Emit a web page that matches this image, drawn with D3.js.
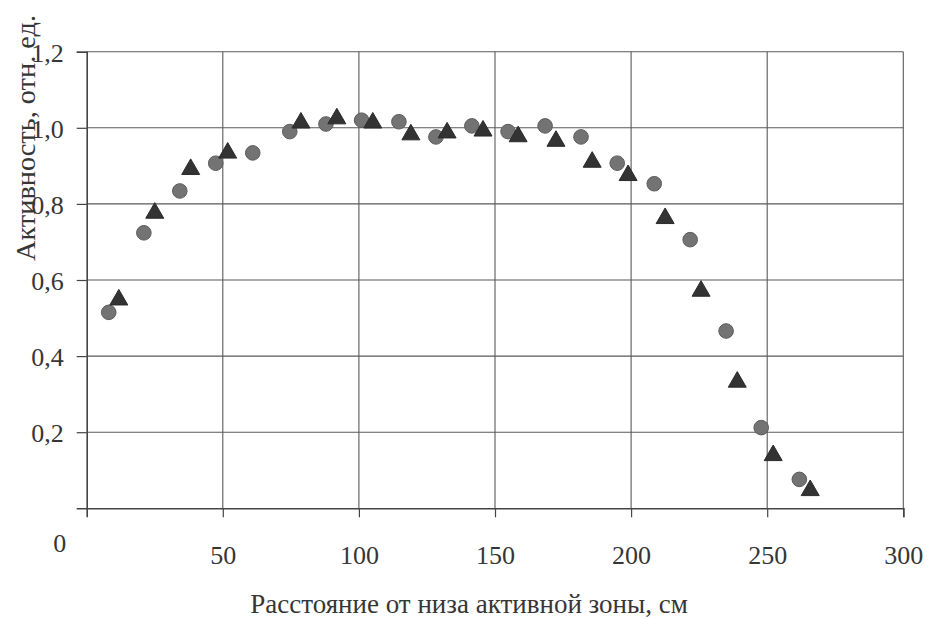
<!DOCTYPE html>
<html>
<head>
<meta charset="utf-8">
<script src="https://cdn.jsdelivr.net/npm/d3@7"></script>
<style>
  html, body { margin: 0; padding: 0; background: #fff; }
  svg { display: block; }
</style>
</head>
<body>
<svg id="chart" width="935" height="621" font-family="Liberation Serif, Times New Roman, serif"></svg>
<script>
// Distance from the bottom of the core, cm, and relative activity
const circleX = [8.1, 21, 34.2, 47.4, 61, 74.6, 87.9, 101, 114.7, 128.3, 141.5, 154.8, 168.4, 181.6, 194.9, 208.5, 221.7, 234.9, 247.8, 261.8];
const circleY = [0.515, 0.724, 0.834, 0.907, 0.934, 0.990, 1.010, 1.020, 1.016, 0.976, 1.005, 0.990, 1.005, 0.976, 0.907, 0.853, 0.706, 0.466, 0.212, 0.076];
const triX = [11.8, 25, 38.2, 51.8, 78.7, 91.9, 105.1, 119.1, 132.4, 145.6, 158.5, 172.4, 185.7, 198.9, 212.5, 225.7, 239, 252.2, 265.8];
const triY = [0.548, 0.776, 0.891, 0.934, 1.013, 1.024, 1.013, 0.982, 0.987, 0.992, 0.977, 0.965, 0.910, 0.875, 0.762, 0.571, 0.332, 0.139, 0.047];
const xTicks = [50, 100, 150, 200, 250, 300];
const yTicks = [0.2, 0.4, 0.6, 0.8, 1.0, 1.2];
const xTitle = "Расстояние от низа активной зоны, см";
const yTitle = "Активность, отн. ед.";

const FONT = "Liberation Serif, Times New Roman, serif";
const INK = "#363636";

const svg = d3.select("#chart");
const x = d3.scaleLinear().domain([0, 300]).range([86.7, 903.3]);
const y = d3.scaleLinear().domain([0, 1.2]).range([508.3, 51.7]);

// grid
const grid = svg.append("g").attr("stroke", "#5a5a5a").attr("stroke-width", 1.1);
grid.selectAll("line.h").data(yTicks).join("line")
  .attr("x1", x(0)).attr("x2", x(300))
  .attr("y1", d => y(d)).attr("y2", d => y(d));
grid.selectAll("line.v").data(xTicks).join("line")
  .attr("y1", y(0)).attr("y2", y(1.2))
  .attr("x1", d => x(d)).attr("x2", d => x(d));

// axes
const fmt = d => d3.format(".1f")(d).replace(".", ",");
const yAxis = svg.append("g").attr("transform", `translate(${x(0)},0)`)
  .call(d3.axisLeft(y).tickValues(yTicks).tickFormat(fmt).tickSize(10).tickPadding(13));
const xAxis = svg.append("g").attr("transform", `translate(0,${y(0)})`)
  .call(d3.axisBottom(x).tickValues(xTicks).tickFormat(d3.format("d")).tickSize(9).tickPadding(28));
[yAxis, xAxis].forEach(a => {
  a.attr("font-family", FONT).attr("font-size", 26);
  a.select(".domain").attr("stroke", "#444").attr("stroke-width", 1.6);
  a.selectAll(".tick line").attr("stroke", "#444").attr("stroke-width", 1.2);
  a.selectAll(".tick text").attr("fill", INK);
});
yAxis.selectAll(".tick text").attr("dy", "0.36em");

// origin label
svg.append("text").attr("x", x(0) - 27).attr("y", y(0) + 44)
  .attr("text-anchor", "middle").attr("font-size", 26).attr("fill", INK).text("0");

// titles
svg.append("text").attr("x", 469).attr("y", 613).attr("text-anchor", "middle")
  .attr("font-size", 27).attr("fill", INK).text(xTitle);
svg.append("text").attr("transform", `translate(35,138) rotate(-90)`)
  .attr("text-anchor", "middle").attr("font-size", 28).attr("fill", INK)
  .attr("textLength", 246).attr("lengthAdjust", "spacingAndGlyphs").text(yTitle);

// series
const circles = d3.zip(circleX, circleY);
const tris = d3.zip(triX, triY);
svg.append("g").selectAll("circle").data(circles).join("circle")
  .attr("cx", d => x(d[0])).attr("cy", d => y(d[1])).attr("r", 7.3)
  .attr("fill", "#737373").attr("stroke", "#5c5c5c").attr("stroke-width", 1);
const tri = d3.symbol().type(d3.symbolTriangle).size(140);
svg.append("g").selectAll("path").data(tris).join("path")
  .attr("transform", d => `translate(${x(d[0])},${y(d[1])})`)
  .attr("d", tri).attr("fill", "#333").attr("stroke", "#2a2a2a").attr("stroke-width", 1);
</script>
</body>
</html>
